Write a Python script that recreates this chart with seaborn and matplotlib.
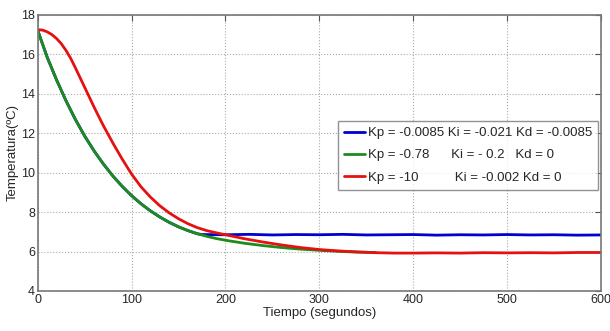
import matplotlib
matplotlib.use("Agg")
import matplotlib.pyplot as plt
import pandas as pd
import seaborn as sns

# Values (time in s, temperature in C)
t_green = [0, 10, 20, 30, 40, 50, 60, 70, 80, 90, 100, 110, 120, 130, 140, 150,
           160, 170, 180, 190, 200, 220, 240, 260, 280, 300, 320, 340, 360]
y_green = [17.2, 15.85, 14.7, 13.65, 12.7, 11.85, 11.1, 10.43, 9.83, 9.3, 8.83, 8.42,
           8.06, 7.75, 7.48, 7.25, 7.06, 6.9, 6.77, 6.66, 6.57, 6.42, 6.3, 6.2, 6.12,
           6.06, 6.01, 5.97, 5.95]

t_blue = [0, 10, 20, 30, 40, 50, 60, 70, 80, 90, 100, 110, 120, 130, 140, 150,
          160, 170, 175, 200, 225, 250, 275, 300, 325, 350, 375, 400, 425, 450,
          475, 500, 525, 550, 575, 600]
y_blue = [17.2, 15.85, 14.7, 13.65, 12.7, 11.85, 11.1, 10.43, 9.83, 9.3, 8.83, 8.42,
          8.06, 7.75, 7.48, 7.25, 7.06, 6.9, 6.86, 6.85, 6.87, 6.84, 6.86, 6.85, 6.87,
          6.84, 6.85, 6.86, 6.83, 6.85, 6.84, 6.86, 6.84, 6.85, 6.83, 6.84]

t_red = [0, 5, 10, 15, 20, 25, 30, 35, 40, 45, 50, 55, 60, 65, 70, 80, 90, 100,
         110, 120, 130, 140, 150, 160, 170, 180, 190, 200, 220, 240, 260, 280, 300,
         320, 340, 360, 380, 400, 425, 450, 475, 500, 525, 550, 575, 600]
y_red = [17.25, 17.23, 17.14, 17.0, 16.8, 16.54, 16.2, 15.8, 15.32, 14.82, 14.32,
         13.82, 13.32, 12.84, 12.37, 11.5, 10.68, 9.92, 9.28, 8.76, 8.32, 7.96,
         7.66, 7.41, 7.21, 7.06, 6.95, 6.85, 6.65, 6.48, 6.33, 6.2, 6.1, 6.03, 5.98,
         5.94, 5.92, 5.92, 5.93, 5.92, 5.94, 5.93, 5.94, 5.93, 5.95, 5.95]

labels = ["Kp = -0.0085 Ki = -0.021 Kd = -0.0085",
          "Kp = -0.78      Ki = - 0.2   Kd = 0",
          "Kp = -10          Ki = -0.002 Kd = 0"]

series = [
    pd.DataFrame({"t": t_blue, "y": y_blue, "serie": labels[0]}),
    pd.DataFrame({"t": t_green, "y": y_green, "serie": labels[1]}),
    pd.DataFrame({"t": t_red, "y": y_red, "serie": labels[2]}),
]
df = pd.concat(series, ignore_index=True)

sns.set_style("white")
plt.rcParams["font.family"] = ["Liberation Sans Narrow", "Liberation Sans", "DejaVu Sans"]

fig = plt.figure(figsize=(6.1, 3.31), dpi=100)
ax = fig.add_axes([0.062, 0.121, 0.923, 0.834])

palette = {labels[0]: "#0000d0", labels[1]: "#1c8c1c", labels[2]: "#e51010"}
sns.lineplot(data=df, x="t", y="y", hue="serie", palette=palette, linewidth=2,
             ax=ax, sort=False, estimator=None)

ax.set_xlim(0, 600)
ax.set_ylim(4, 18)
ax.set_xticks(range(0, 601, 100))
ax.set_yticks(range(4, 19, 2))
ax.grid(True, linestyle=":", color="#aaaaaa", linewidth=0.8)
ax.tick_params(direction="in", length=4, labelsize=9, top=True, right=True,
               labeltop=False, labelright=False, color="#555555", pad=2)
for s in ax.spines.values():
    s.set_color("#777777")
    s.set_linewidth(1.2)

ax.set_xlabel("Tiempo (segundos)", fontsize=9.5, labelpad=1)
ax.set_ylabel("Temperatura(ºC)", fontsize=9.5, labelpad=2)

leg = ax.legend(loc="upper right", bbox_to_anchor=(0.995, 0.615), fontsize=9.5,
                frameon=True, fancybox=False, handlelength=1.6, handletextpad=0.2,
                borderpad=0.45, labelspacing=0.75, borderaxespad=0)
leg.get_frame().set_edgecolor("#777777")
leg.get_frame().set_linewidth(1.0)

fig.savefig("out.png", dpi=100)
